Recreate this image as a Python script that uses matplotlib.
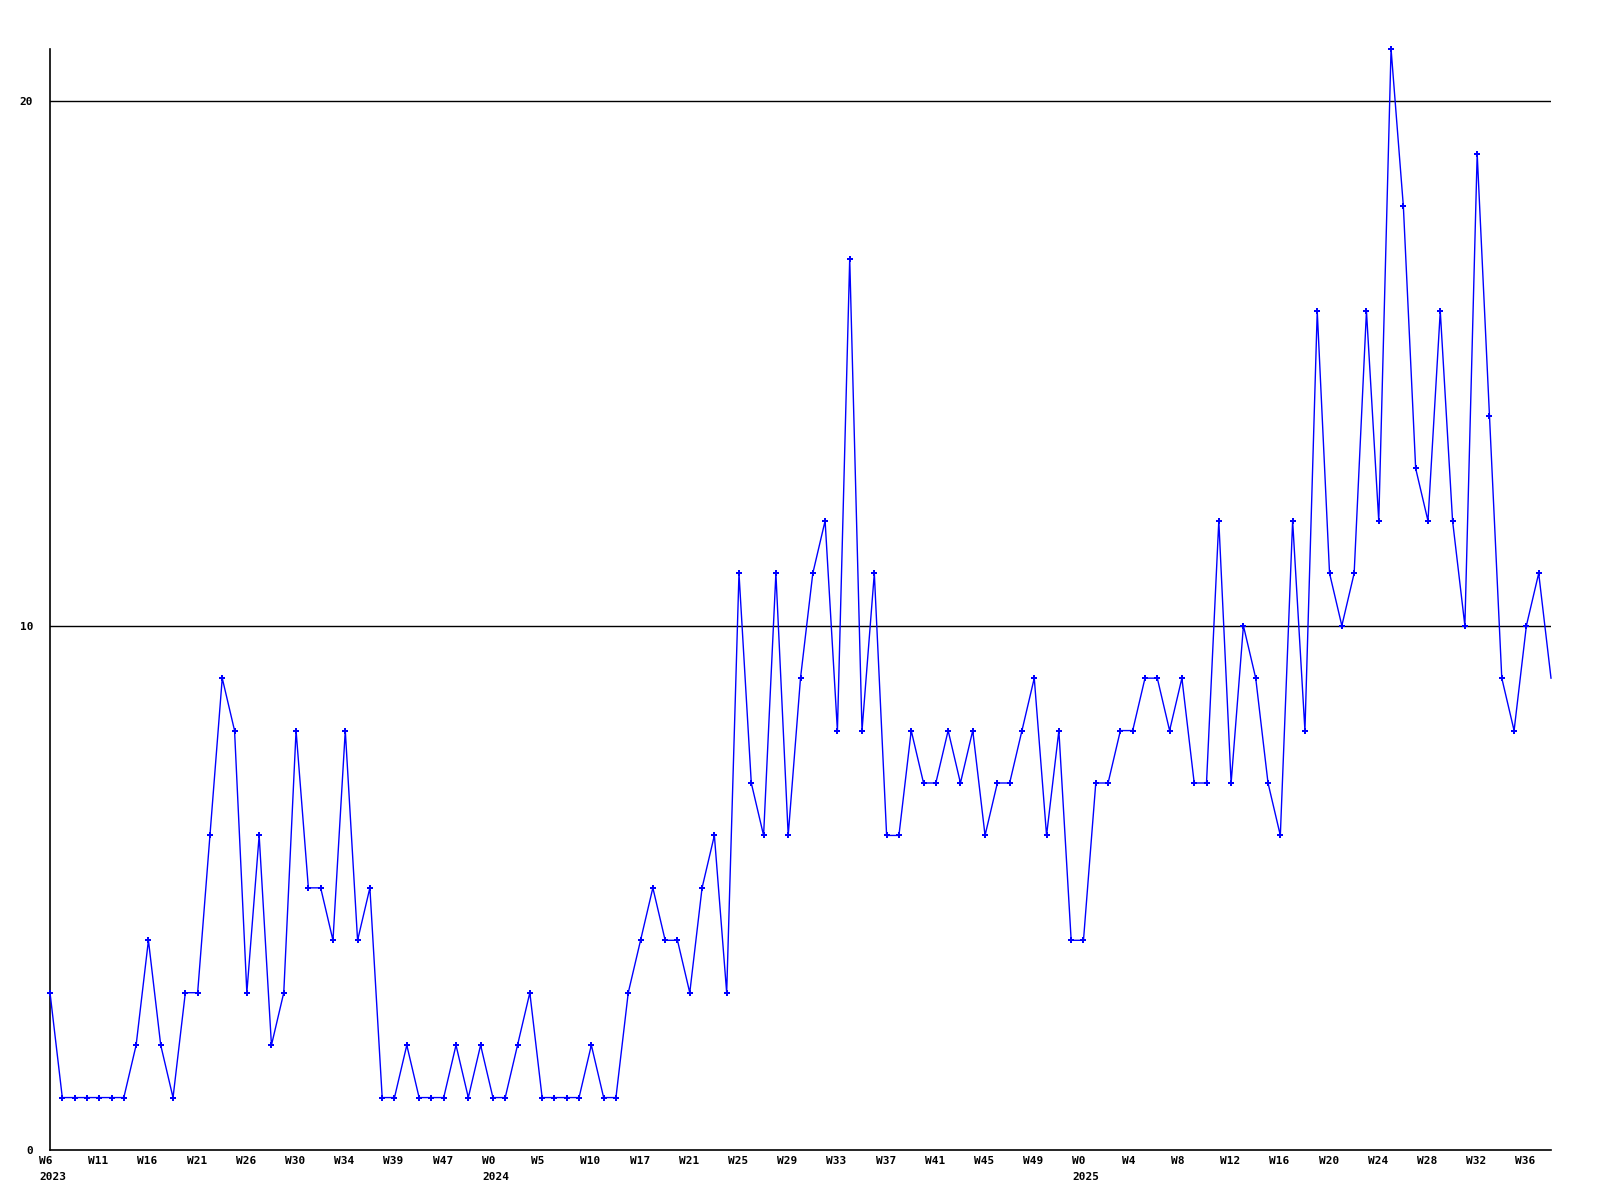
import matplotlib
matplotlib.use("Agg")
import matplotlib.pyplot as plt
import matplotlib.transforms as mtransforms

values = [3, 1, 1, 1, 1, 1, 1, 2, 4, 2, 1, 3, 3, 6, 9, 8, 3, 6, 2, 3,
          8, 5, 5, 4, 8, 4, 5, 1, 1, 2, 1, 1, 1, 2, 1, 2, 1, 1, 2, 3,
          1, 1, 1, 1, 2, 1, 1, 3, 4, 5, 4, 4, 3, 5, 6, 3, 11, 7, 6, 11,
          6, 9, 11, 12, 8, 17, 8, 11, 6, 6, 8, 7, 7, 8, 7, 8, 6, 7, 7, 8,
          9, 6, 8, 4, 4, 7, 7, 8, 8, 9, 9, 8, 9, 7, 7, 12, 7, 10, 9, 7,
          6, 12, 8, 16, 11, 10, 11, 16, 12, 21, 18, 13, 12, 16, 12, 10, 19, 14, 9, 8,
          10, 11, 9]

tick_labels = ["W6\n2023", "W11", "W16", "W21", "W26", "W30", "W34", "W39", "W47",
               "W0\n2024", "W5", "W10", "W17", "W21", "W25", "W29", "W33", "W37",
               "W41", "W45", "W49", "W0\n2025", "W4", "W8", "W12", "W16", "W20",
               "W24", "W28", "W32", "W36"]
tick_step = 4
y_ticks = [0, 10, 20]

fig = plt.figure(figsize=(16, 12), dpi=100)
ax = fig.add_axes([50 / 1600, 1 - 1150 / 1200, (1551 - 50) / 1600, (1150 - 49) / 1200])

x = list(range(len(values)))
ax.plot(x, values, color="#0000ff", linewidth=1.0, marker="P", markersize=4,
        markeredgewidth=0, zorder=3, clip_on=False,
        markevery=list(range(len(values) - 1)))

ax.set_xlim(0, len(values) - 1)
ax.set_ylim(0, 21)

for v in y_ticks[1:]:
    ax.axhline(v, color="black", linewidth=1, zorder=1)

for s in ["top", "right"]:
    ax.spines[s].set_visible(False)
for s in ["left", "bottom"]:
    ax.spines[s].set_color("black")
    ax.spines[s].set_linewidth(1.2)

font = dict(family="DejaVu Sans Mono", weight="bold", size=8)
ax.set_yticks(y_ticks)
ax.set_yticklabels([str(v) for v in y_ticks], **font)
ax.tick_params(axis="y", length=0, pad=12)

ax.set_xticks([i * tick_step for i in range(len(tick_labels))])
ax.set_xticklabels(tick_labels, **font)
ax.tick_params(axis="x", length=0, pad=4)
offset = mtransforms.ScaledTranslation(-11 / 100, 0, fig.dpi_scale_trans)
for lab in ax.get_xticklabels():
    lab.set_horizontalalignment("left")
    lab.set_multialignment("left")
    lab.set_linespacing(1.75)
    lab.set_transform(lab.get_transform() + offset)

fig.savefig("out.png", dpi=100, facecolor="white")
